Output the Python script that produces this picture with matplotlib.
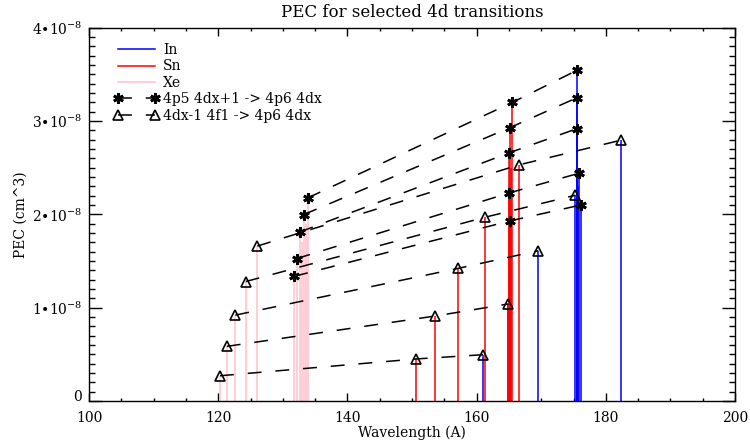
import numpy as np
import matplotlib
matplotlib.use("Agg")
import matplotlib.pyplot as plt
import matplotlib.transforms as mtransforms
from matplotlib.ticker import FixedLocator, MultipleLocator, FuncFormatter

plt.rcParams['font.family'] = ['DejaVu Serif']
plt.rcParams['mathtext.fontset'] = 'dejavuserif'
plt.rcParams['lines.scale_dashes'] = False

# 4p5 4dx+1 -> 4p6 4dx lines (asterisks), sorted by PEC
xe_star_wl = [131.78, 132.15, 132.62, 133.24, 133.85]
xe_star_pec = [1.336e-8, 1.526e-8, 1.811e-8, 1.998e-8, 2.176e-8]
sn_star_wl = [165.17, 165.06, 165.06, 165.17, 165.53]
sn_star_pec = [1.93e-8, 2.23e-8, 2.66e-8, 2.93e-8, 3.20e-8]
in_star_wl = [176.11, 175.80, 175.59, 175.50, 175.59]
in_star_pec = [2.10e-8, 2.44e-8, 2.92e-8, 3.249e-8, 3.546e-8]

# 4dx-1 4f1 -> 4p6 4dx lines (triangles)
xe_tri_wl = [120.28, 121.32, 122.65, 124.26, 126.05]
xe_tri_pec = [0.27e-8, 0.585e-8, 0.92e-8, 1.28e-8, 1.66e-8]
sn_tri_wl = [150.57, 153.56, 157.07, 161.35, 166.52]
sn_tri_pec = [0.45e-8, 0.91e-8, 1.42e-8, 1.97e-8, 2.53e-8]
in_tri_wl = [161.04, 164.91, 169.55, 175.28, 182.35]
in_tri_pec = [0.496e-8, 1.04e-8, 1.61e-8, 2.205e-8, 2.795e-8]

# other lines drawn without symbols
xe_extra_wl = [132.9, 133.55]
xe_extra_pec = [1.70e-8, 1.90e-8]
sn_extra_wl = [165.3]
sn_extra_pec = [2.50e-8]
in_extra_wl = [175.7]
in_extra_pec = [2.30e-8]

fig = plt.figure(figsize=(7.5, 4.48), dpi=100)
ax = fig.add_axes([0.1187, 0.105, 0.8613, 0.833])

elements = [
    ('In', 'blue', in_star_wl + in_tri_wl + in_extra_wl, in_star_pec + in_tri_pec + in_extra_pec),
    ('Sn', 'red', sn_star_wl + sn_tri_wl + sn_extra_wl, sn_star_pec + sn_tri_pec + sn_extra_pec),
    ('Xe', 'pink', xe_star_wl + xe_tri_wl + xe_extra_wl, xe_star_pec + xe_tri_pec + xe_extra_pec),
]
handles = []
for name, col, wl, pec in elements:
    ax.vlines(wl, 0, pec, colors=col, lw=1.1, zorder=2)
    h, = ax.plot([], [], color=col, lw=1.1, label=name)
    handles.append(h)

dash = (0, (10, 10))
for i in range(len(xe_star_wl)):
    h_star, = ax.plot([xe_star_wl[i], sn_star_wl[i], in_star_wl[i]],
                      [xe_star_pec[i], sn_star_pec[i], in_star_pec[i]],
                      color='black', ls=dash, lw=1.1, marker=(6, 2, 0), ms=7.5, mew=2.0,
                      zorder=3, label='4p5 4dx+1 -> 4p6 4dx')
for i in range(len(xe_tri_wl)):
    h_tri, = ax.plot([xe_tri_wl[i], sn_tri_wl[i], in_tri_wl[i]],
                     [xe_tri_pec[i], sn_tri_pec[i], in_tri_pec[i]],
                     color='black', ls=dash, lw=1.1, marker='^', ms=7, mew=1.2,
                     mfc='none', zorder=3, label='4dx-1 4f1 -> 4p6 4dx')
handles += [h_star, h_tri]

ax.set_xlim(100, 200)
ax.set_ylim(0, 4e-8)
ax.xaxis.set_major_locator(MultipleLocator(20))
ax.xaxis.set_minor_locator(MultipleLocator(5))
ax.yaxis.set_major_locator(FixedLocator([0, 1e-8, 2e-8, 3e-8, 4e-8]))
ax.yaxis.set_minor_locator(MultipleLocator(0.1e-8))


def yfmt(v, pos):
    if abs(v) < 1e-12:
        return '0'
    return '%d\u202210$^{\\mathregular{-8}}$' % round(v / 1e-8)


ax.yaxis.set_major_formatter(FuncFormatter(yfmt))
ax.tick_params(axis='x', which='major', direction='in', length=5.5, width=1, top=True, pad=7, labelsize=10)
ax.tick_params(axis='x', which='minor', direction='in', length=2.5, width=1, top=True)
ax.tick_params(axis='y', which='major', direction='in', length=9.3, width=1, right=True, pad=5, labelsize=10)
ax.tick_params(axis='y', which='minor', direction='in', length=4.3, width=1, right=True)
for sp in ax.spines.values():
    sp.set_linewidth(1.0)

# the "0" label sits a little above the axis, as in the original
zero_lbl = ax.yaxis.get_major_ticks()[0].label1
zero_lbl.set_transform(zero_lbl.get_transform()
                       + mtransforms.ScaledTranslation(0, 3.6 / 72, fig.dpi_scale_trans))

ax.set_xlabel('Wavelength (A)', fontsize=10, labelpad=1)
ax.set_ylabel('PEC (cm^3)', fontsize=10, labelpad=3)
ax.set_title('PEC for selected 4d transitions', fontsize=12, pad=8)

ax.legend(handles=handles, loc='upper left', bbox_to_anchor=(0.038, 0.959), frameon=False,
          fontsize=10, handlelength=3.3, handletextpad=0.27, labelspacing=0.17,
          numpoints=2, borderaxespad=0, borderpad=0)

fig.savefig('out.png', dpi=100)
